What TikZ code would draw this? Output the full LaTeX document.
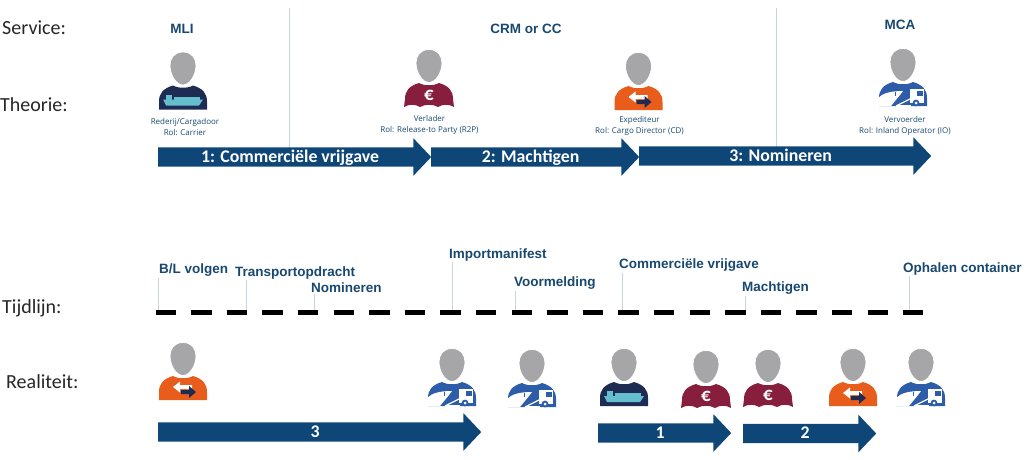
\documentclass[tikz,border=0pt]{standalone}
\usepackage{fontspec}
\setmainfont{Carlito}
\newfontfamily\headfont{Liberation Sans}
\newfontfamily\smallfont{Open Sans}
\usetikzlibrary{shapes.arrows, arrows, positioning, calc}
\definecolor{flowblue}{RGB}{15, 70, 120}
\definecolor{labelblue}{RGB}{24, 72, 112}
\definecolor{tickgrey}{RGB}{200, 212, 222}
\definecolor{headgrey}{RGB}{166, 166, 168}
\definecolor{shipnavy}{RGB}{30, 44, 84}
\definecolor{shipcyan}{RGB}{100, 190, 205}
\definecolor{euromaroon}{RGB}{136, 30, 62}
\definecolor{arroworange}{RGB}{232, 92, 28}
\definecolor{truckblue}{RGB}{45, 92, 168}
\tikzstyle{rowlabel} = [anchor=west, inner sep=0pt, font=\fontsize{20}{22}\selectfont, text=black!85]
\tikzstyle{service} = [inner sep=0pt, font=\headfont\bfseries\fontsize{13.5}{15}\selectfont, text=labelblue]
\tikzstyle{event} = [anchor=west, inner sep=0pt, font=\headfont\bfseries\fontsize{13.5}{15}\selectfont, text=labelblue]
\tikzstyle{role} = [align=center, inner sep=0pt, font=\smallfont\fontsize{8}{10.5}\selectfont, text=labelblue]
\tikzstyle{flow} = [single arrow, single arrow head extend=9pt, single arrow tip angle=93, minimum width=37pt, inner sep=0pt, text height=14.5pt, text depth=4.5pt, anchor=tail, fill=flowblue, text=white, font=\bfseries\fontsize{17.8}{18}\selectfont]
\tikzstyle{tick} = [draw=tickgrey, line width=0.8pt]
\tikzstyle{timeline} = [line width=5pt, dash pattern=on 20.5pt off 15.1pt]
\tikzset{
  pics/head/.style={code={
    \fill[headgrey, draw=white, line width=0.8pt] (0,-16.5) .. controls (9,-16.5) and (13,-10) .. (13,-3)
      .. controls (13,6) and (7,16.5) .. (0,16.5)
      .. controls (-7,16.5) and (-13,6) .. (-13,-3)
      .. controls (-13,-10) and (-9,-16.5) .. (0,-16.5) -- cycle;
  }},
  pics/person/.style={code={
    \fill[#1] (-24,41) -- (-24,33) .. controls (-24,25) and (-20,20) .. (-10,17)
      .. controls (-5,20) and (5,20) .. (10,17)
      .. controls (20,20) and (24,25) .. (24,33) -- (24,41) -- cycle;
    \pic {head};
  }},
  pics/carrier/.style={code={
    \pic {person=shipnavy};
    \fill[shipcyan] (-20,31) -- (20,31) -- (16,37) -- (-17,37) -- cycle;
    \fill[shipcyan] (-17,26) rectangle (-11,31);
    \fill[shipcyan] (-9,28) rectangle (17,31);
  }},
  pics/shipper/.style={code={
    \fill[euromaroon] (-25,41) -- (-24,33) .. controls (-24,25) and (-20,20) .. (-10,17)
      .. controls (-5,20) and (5,20) .. (10,17)
      .. controls (20,20) and (24,25) .. (24,33) -- (25,41)
      .. controls (20,38) and (14,38) .. (9,41) .. controls (4,38) and (-4,38) .. (-9,41)
      .. controls (-14,38) and (-20,38) .. (-25,41) -- cycle;
    \pic {head};
    \node (-sign) [inner sep=0pt, text=white, font=\bfseries\fontsize{19}{19}\selectfont] at (0,29) {€};
  }},
  pics/forwarder/.style={code={
    \pic {person=arroworange};
    % two head to tail arrows, the dark one on top
    \fill[white] (9,26) -- (-3,26) -- (-3,22.5) -- (-10,28) -- (-3,33.5) -- (-3,30) -- (9,30) -- cycle;
    \fill[shipnavy] (-2,31) -- (6,31) -- (6,27) -- (13,33) -- (6,39) -- (6,35) -- (-2,35) -- cycle;
  }},
  pics/operator/.style={code={
    \pic {person=truckblue};
    \fill[white] (-25,33) .. controls (-20,28) and (-12,26) .. (0,26) -- (-3,30) -- (-12,41) -- (-25,41) -- cycle;
    \fill[white] (7,24) -- (21,24) -- (21,38) -- (7,38) -- cycle;
    \draw[white, line width=1.3pt] (-7,41) -- (7,34);
    \draw[white, line width=1.3pt] (-7,41) -- (8,41);
    \fill[truckblue] (14,26) rectangle (20,31);
    \draw[truckblue, line width=0.8pt] (-8,27) -- (-8,31);
    \fill[truckblue] (13,38) circle (3.4);
    \fill[white] (13,38) circle (1.5);
  }}
}

\begin{document}
\begin{tikzpicture}[x=1pt, y=-1pt]
\useasboundingbox (0,0) rectangle (1030,460);

% Row labels
\node (service) [rowlabel] at (2,28) {Service:};
\node (theorie) [rowlabel] at (0,105) {Theorie:};
\node (tijdlijn) [rowlabel] at (2,308) {Tijdlijn:};
\node (realiteit) [rowlabel] at (6,382) {Realiteit:};

% Services
\node (mli) [service] at (182,29) {MLI};
\node (crm) [service] at (526,29) {CRM or CC};
\node (mca) [service] at (900,25) {MCA};

% Service borders
\coordinate (border1top) at (289,8);
\coordinate (border1end) at (289,150);
\coordinate (border2top) at (776.5,8);
\coordinate (border2end) at (776.5,150);
\draw [tick] (border1top) -- (border1end);
\draw [tick] (border2top) -- (border2end);

% Theory
\pic (carrier) at (183,68.5) {carrier};
\pic (shipper) at (429,66) {shipper};
\pic (forwarder) at (638.5,69) {forwarder};
\pic (operator) at (903,65) {operator};
\node (carrier_role) [role] at (185,127) {Rederij/Cargadoor\\Rol: Carrier};
\node (shipper_role) [role] at (429.5,125) {Verlader\\Rol: Release-to Party (R2P)};
\node (forwarder_role) [role] at (639.5,126) {Expediteur\\Rol: Cargo Director (CD)};
\node (operator_role) [role] at (905,126) {Vervoerder\\Rol: Inland Operator (IO)};

\node (step1) [flow, minimum height=273pt] at (158,157) {1: Commerciële vrijgave};
\node (step2) [flow, minimum height=208pt] at (431,157) {2: Machtigen};
\node (step3) [flow, minimum height=292pt] at (639,156) {3: Nomineren};

% Timeline
\node (bl) [event] at (159,270) {B/L volgen};
\node (transport) [event] at (235,273) {Transportopdracht};
\node (nomineren) [event] at (311,288) {Nomineren};
\node (manifest) [event] at (449,255) {Importmanifest};
\node (voormelding) [event] at (514,283) {Voormelding};
\node (vrijgave) [event] at (619,265.5) {Commerciële vrijgave};
\node (machtigen) [event] at (742,288) {Machtigen};
\node (ophalen) [event] at (903,269) {Ophalen container};

\coordinate (tick_bl) at (158.5,312);
\coordinate (tick_transport) at (246,312);
\coordinate (tick_nomineren) at (314,312);
\coordinate (tick_manifest) at (452.5,312);
\coordinate (tick_voormelding) at (515,312);
\coordinate (tick_vrijgave) at (622.5,312);
\coordinate (tick_machtigen) at (745,312);
\coordinate (tick_ophalen) at (909,312);
\foreach \n/\l in {tick_bl/bl, tick_transport/transport, tick_nomineren/nomineren, tick_manifest/manifest, tick_voormelding/voormelding, tick_vrijgave/vrijgave, tick_machtigen/machtigen, tick_ophalen/ophalen}
  \draw [tick] (\n) -- ($(\n |- \l.south)+(0,1)$);

\coordinate (line_start) at (155.5,312);
\coordinate (line_end) at (923,312);
\draw [timeline] (line_start) -- (line_end);

% Reality
\pic (forwarder2) at (183,359) {forwarder};
\pic (operator2) at (452,365) {operator};
\pic (operator3) at (532,366) {operator};
\pic (carrier2) at (624,365) {carrier};
\pic (shipper2) at (706,367) {shipper};
\pic (shipper3) at (768,366) {shipper};
\pic (forwarder3) at (853,365) {forwarder};
\pic (operator4) at (921,365) {operator};

\node (real3) [flow, minimum height=323pt] at (158,432) {3};
\node (real1) [flow, minimum height=133pt] at (598,433) {1};
\node (real2) [flow, minimum height=133pt] at (743,433.5) {2};

\end{tikzpicture}
\end{document}
